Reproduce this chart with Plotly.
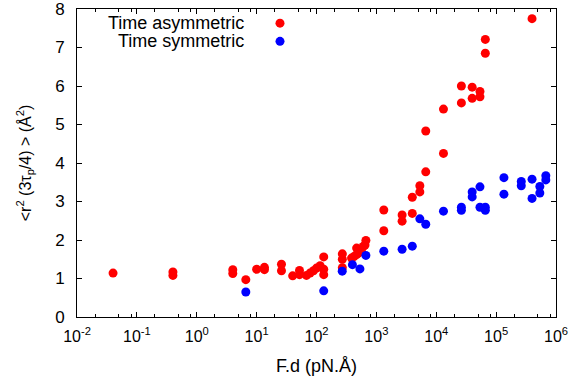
import plotly.graph_objects as go

# Time asymmetric (red)
asym_x = [0.04, 0.4, 0.4, 4, 4, 6.6, 10, 13.5, 13.5, 26, 26, 40, 52, 52,
          68, 78, 89, 100, 115, 132, 132, 132, 270, 270, 270,
          385, 422, 468, 468, 501, 562, 603, 646, 668,
          1330, 1330, 2690, 2690, 3980, 3980, 5320, 5320, 6680, 6680,
          13200, 13200, 26300, 26300, 39800, 39800, 53700, 53700, 66000, 66000, 398000]
asym_y = [1.14, 1.17, 1.08, 1.23, 1.13, 0.97, 1.24, 1.29, 1.23, 1.37, 1.20, 1.07, 1.21, 1.10,
          1.08, 1.14, 1.20, 1.27, 1.33, 1.56, 1.24, 1.10, 1.64, 1.50, 1.28,
          1.53, 1.57, 1.62, 1.79, 1.66, 1.70, 1.83, 1.87, 1.99,
          2.78, 2.24, 2.65, 2.49, 3.11, 2.69, 3.41, 3.25, 4.83, 3.77,
          5.40, 4.25, 6.00, 5.56, 5.97, 5.68, 5.86, 5.72, 7.21, 6.85, 7.75]

# Time symmetric (blue)
sym_x = [6.6, 132, 269, 398, 531, 668, 1330, 2690, 3980, 5320, 6680, 13200,
         26300, 26300, 39800, 39800, 53700, 53700, 66000, 66000,
         135000, 135000, 263000, 263000, 398000, 398000, 537000, 537000, 676000, 676000]
sym_y = [0.65, 0.68, 1.19, 1.36, 1.25, 1.60, 1.71, 1.76, 1.84, 2.55, 2.41, 2.75,
         2.85, 2.77, 3.25, 3.12, 3.38, 2.85, 2.85, 2.77,
         3.62, 3.19, 3.52, 3.41, 3.58, 3.08, 3.39, 3.22, 3.67, 3.56]

x_tickvals = [1e-2, 1e-1, 1, 1e1, 1e2, 1e3, 1e4, 1e5, 1e6]
x_ticktext = ["10<sup>-2</sup>", "10<sup>-1</sup>", "10<sup>0</sup>", "10<sup>1</sup>",
              "10<sup>2</sup>", "10<sup>3</sup>", "10<sup>4</sup>", "10<sup>5</sup>", "10<sup>6</sup>"]
minor_vals = []
for e in range(-2, 6):
    for m in (2, 5, 8):
        minor_vals.append(m * 10 ** e)

FONT = "Liberation Sans, Arial, Helvetica, sans-serif"
RED = "#ff0000"
BLUE = "#0000ff"

fig = go.Figure()
fig.add_trace(go.Scatter(x=asym_x, y=asym_y, mode="markers", name="Time asymmetric",
                         marker=dict(color=RED, size=9, line=dict(width=0))))
fig.add_trace(go.Scatter(x=sym_x, y=sym_y, mode="markers", name="Time symmetric",
                         marker=dict(color=BLUE, size=9, line=dict(width=0))))

fig.update_layout(
    width=569, height=381,
    margin=dict(l=77, r=13, t=9, b=64),
    paper_bgcolor="white", plot_bgcolor="white",
    showlegend=False,
    font=dict(family=FONT, size=16, color="black"),
    xaxis=dict(type="log", range=[-2, 6], tickvals=x_tickvals, ticktext=x_ticktext,
               ticks="inside", ticklen=5, tickwidth=1, tickcolor="black",
               minor=dict(tickvals=minor_vals, ticks="inside", ticklen=3, tickcolor="black"),
               showline=True, linecolor="black", linewidth=1, mirror="allticks",
               showgrid=False, zeroline=False, ticklabeloverflow="allow",
               ticklabelstandoff=5, automargin=False),
    yaxis=dict(range=[0, 8], tickvals=[0, 1, 2, 3, 4, 5, 6, 7, 8],
               ticks="inside", ticklen=5, tickwidth=1, tickcolor="black",
               showline=True, linecolor="black", linewidth=1, mirror="allticks",
               showgrid=False, zeroline=False, ticklabelstandoff=8,
               ticklabeloverflow="allow",
               tickfont=dict(size=17), automargin=False),
)

# axis titles
fig.add_annotation(x=0.5, y=-0.159, xref="paper", yref="paper", text="F.d (pN.Å)",
                   showarrow=False, xanchor="center", yanchor="middle",
                   font=dict(family=FONT, size=18, color="black"))
fig.add_annotation(x=-0.108, y=0.5, xref="paper", yref="paper",
                   text="&lt;r<sup>2</sup> (3τ<sub>p</sub>/4) &gt; (Å<sup>2</sup>)",
                   textangle=-90, showarrow=False, xanchor="center", yanchor="middle",
                   font=dict(family=FONT, size=16, color="black"))

# legend drawn gnuplot-style: text right-aligned, symbol on the right
leg = [("Time asymmetric", RED, 0.954), ("Time symmetric", BLUE, 0.895)]
for txt, col, yy in leg:
    fig.add_annotation(x=0.353, y=yy, xref="paper", yref="paper", text=txt,
                       showarrow=False, xanchor="right", yanchor="middle",
                       font=dict(family=FONT, size=18, color="black"))
    fig.add_shape(type="circle", xref="paper", yref="paper",
                  x0=0.4238 - 0.0094, x1=0.4238 + 0.0094, y0=yy - 0.0146, y1=yy + 0.0146,
                  fillcolor=col, line=dict(width=0))

fig.write_html("out.html", config={"displayModeBar": False},
               post_script="document.body.style.margin='0';")
